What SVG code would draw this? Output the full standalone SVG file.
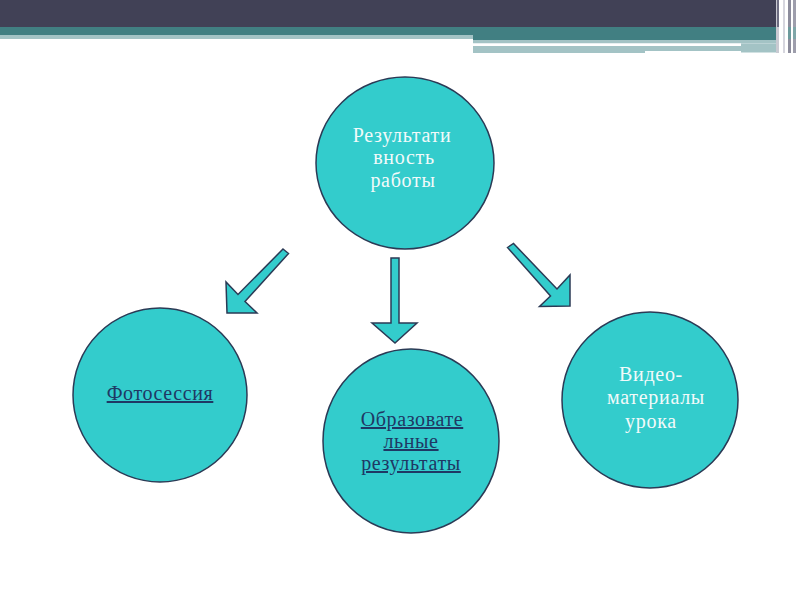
<svg xmlns="http://www.w3.org/2000/svg" width="800" height="600" viewBox="0 0 800 600">
<style>
.node{fill:#33CCCC;stroke:#2B3A55;stroke-width:1.5}
.arrow{fill:#33CCCC;stroke:#2B3A55;stroke-width:1.5;stroke-linejoin:miter}
.tw{font-family:"Liberation Serif","DejaVu Serif",serif;font-size:20px;fill:#F2FAFA;text-anchor:middle;letter-spacing:0.7px}
.tl{font-family:"Liberation Serif","DejaVu Serif",serif;font-size:20px;fill:#1F3864;text-anchor:middle;text-decoration:underline;letter-spacing:0.6px}
</style>
<rect width="800" height="600" fill="#FFFFFF"/>
<g id="header">
<rect x="0" y="0" width="776" height="27" fill="#414156"/>
<rect x="0" y="27" width="776" height="8" fill="#417F82"/>
<rect x="0" y="35" width="473" height="4" fill="#A3C3C5"/>
<rect x="473" y="35" width="303" height="5" fill="#417F82"/>
<rect x="473" y="40" width="303" height="3.5" fill="#A3C3C5"/>
<rect x="473" y="43.5" width="268" height="2.5" fill="#FFFFFF"/>
<rect x="741" y="43.5" width="35" height="9" fill="#A3C3C5"/>
<rect x="473" y="46" width="172" height="7" fill="#A3C3C5"/>
<rect x="645" y="46" width="131" height="5" fill="#A3C3C5"/>
<rect x="776" y="0" width="3" height="53" fill="#C9CAD2"/>
<rect x="777" y="0" width="2" height="27" fill="#6E6E82"/>
<rect x="783" y="0" width="2" height="53" fill="#D6D6DE"/>
<rect x="788" y="0" width="3" height="53" fill="#8C8C9C"/>
<rect x="788" y="27" width="3" height="12" fill="#6C9A9C"/>
<rect x="793" y="0" width="3" height="53" fill="#9E9EAC"/>
<rect x="793" y="27" width="3" height="12" fill="#7FA6A8"/>
</g>
<g id="connectors">
<polygon class="arrow" points="283,249 288.5,253.5 245,301.5 257,313 227,313 226,282 238,294.5"/>
<polygon class="arrow" points="391,258 399,258 399,323 417,323 395,343 372,323 391,323"/>
<polygon class="arrow" points="507.5,247.5 513.5,243.5 557,289 570,275 570,306 539.5,306.5 550.5,296"/>
</g>
<g id="n-top">
<ellipse class="node" cx="405" cy="163" rx="89" ry="86"/>
<text class="tw" x="402" y="142">Результати</text>
<text class="tw" x="404" y="164">вность</text>
<text class="tw" x="403" y="187">работы</text>
</g>
<g id="n-photo">
<circle class="node" cx="160" cy="395" r="87"/>
<text class="tl" x="160" y="400">Фотосессия</text>
</g>
<g id="n-edu">
<ellipse class="node" cx="411" cy="441" rx="88" ry="92"/>
<text class="tl" x="412" y="426">Образовате</text>
<text class="tl" x="411" y="448">льные</text>
<text class="tl" x="411" y="470">результаты</text>
</g>
<g id="n-video">
<circle class="node" cx="650" cy="400" r="88"/>
<text class="tw" x="651" y="381">Видео-</text>
<text class="tw" x="656" y="404">материалы</text>
<text class="tw" x="651" y="428">урока</text>
</g>
</svg>
